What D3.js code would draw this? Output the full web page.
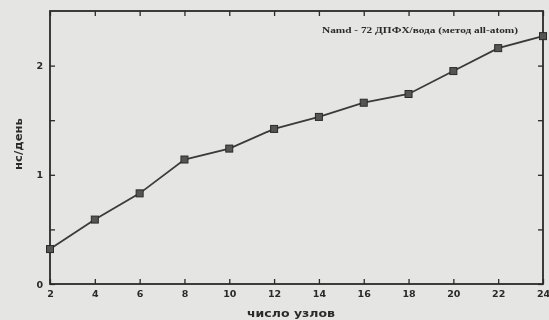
<!DOCTYPE html>
<html>
<head>
<meta charset="utf-8">
<script src="https://cdn.jsdelivr.net/npm/d3@7"></script>
<style>
  html, body { margin: 0; padding: 0; background: #e5e5e3; }
  svg { display: block; }
</style>
</head>
<body>
<svg id="chart" width="549" height="320"></svg>
<script>
// Производительность NAMD в зависимости от числа узлов
const nodes = [2, 4, 6, 8, 10, 12, 14, 16, 18, 20, 22, 24];
const nsPerDay = [0.32, 0.59, 0.83, 1.14, 1.24, 1.42, 1.53, 1.66, 1.74, 1.95, 2.16, 2.27];
const xTicks = [2, 4, 6, 8, 10, 12, 14, 16, 18, 20, 22, 24];
const yTicks = [0, 0.5, 1, 1.5, 2];
const yLabelTicks = [0, 1, 2];
const legendText = "Namd - 72 ДПФХ/вода (метод all-atom)";
const xTitle = "число узлов";
const yTitle = "нс/день";

const W = 549, H = 320;
const m = { left: 50, right: 6, top: 11, bottom: 36 };
const svg = d3.select("#chart");

const defs = svg.append("defs");
const f = defs.append("filter").attr("id", "soft");
f.append("feGaussianBlur").attr("stdDeviation", 0.45);

svg.append("rect").attr("width", W).attr("height", H).attr("fill", "#e5e5e3");

const x = d3.scaleLinear().domain([2, 24]).range([m.left, W - m.right]);
const y = d3.scaleLinear().domain([0, 2.5]).range([H - m.bottom, m.top]);

const g = svg.append("g").attr("filter", "url(#soft)");
const ink = "#2a2a2a";

// tick marks pointing inward on all four sides
const tl = 5;
g.append("g").attr("transform", `translate(0,${y(0)})`)
  .call(d3.axisBottom(x).tickValues(xTicks).tickSize(-tl).tickFormat(d => d))
  .call(s => {
    s.select(".domain").remove();
    s.selectAll("line").attr("stroke", ink).attr("stroke-width", 1.3);
    s.selectAll("text").attr("dy", "0.71em").attr("y", 6)
      .attr("fill", ink).style("font", "bold 9.5px 'DejaVu Sans', sans-serif");
  });
g.append("g").attr("transform", `translate(0,${y(2.5)})`)
  .call(d3.axisTop(x).tickValues(xTicks).tickSize(-tl).tickFormat(""))
  .call(s => {
    s.select(".domain").remove();
    s.selectAll("line").attr("stroke", ink).attr("stroke-width", 1.3);
  });
g.append("g").attr("transform", `translate(${x(2)},0)`)
  .call(d3.axisLeft(y).tickValues(yTicks).tickSize(-tl)
    .tickFormat(d => yLabelTicks.includes(d) ? d : ""))
  .call(s => {
    s.select(".domain").remove();
    s.selectAll("line").attr("stroke", ink).attr("stroke-width", 1.3);
    s.selectAll("text").attr("x", -7).attr("fill", ink)
      .style("font", "bold 9.5px 'DejaVu Sans', sans-serif");
  });
g.append("g").attr("transform", `translate(${x(24)},0)`)
  .call(d3.axisRight(y).tickValues(yTicks).tickSize(-tl).tickFormat(""))
  .call(s => {
    s.select(".domain").remove();
    s.selectAll("line").attr("stroke", ink).attr("stroke-width", 1.3);
  });

// frame
g.append("rect")
  .attr("x", x(2)).attr("y", y(2.5))
  .attr("width", x(24) - x(2)).attr("height", y(0) - y(2.5))
  .attr("fill", "none").attr("stroke", ink).attr("stroke-width", 1.8);

// data line and square markers
const pts = nodes.map((n, i) => [n, nsPerDay[i]]);
g.append("path").datum(pts)
  .attr("fill", "none").attr("stroke", "#3a3a3a").attr("stroke-width", 1.8)
  .attr("d", d3.line().x(d => x(d[0])).y(d => y(d[1])));
const ms = 7;
g.selectAll("rect.pt").data(pts).join("rect").attr("class", "pt")
  .attr("x", d => x(d[0]) - ms / 2).attr("y", d => y(d[1]) - ms / 2)
  .attr("width", ms).attr("height", ms)
  .attr("fill", "#555").attr("stroke", "#2a2a2a").attr("stroke-width", 1);

// legend caption
g.append("text").attr("x", 322).attr("y", 33)
  .attr("textLength", 196).attr("lengthAdjust", "spacingAndGlyphs")
  .attr("fill", ink).style("font", "bold 9px 'Liberation Serif', serif")
  .text(legendText);

// axis titles
g.append("text").attr("x", 247).attr("y", 317)
  .attr("textLength", 88).attr("lengthAdjust", "spacingAndGlyphs")
  .attr("fill", ink).style("font", "bold 10.5px 'DejaVu Sans', sans-serif")
  .text(xTitle);
g.append("text").attr("transform", "translate(22,170) rotate(-90)")
  .attr("textLength", 52).attr("lengthAdjust", "spacingAndGlyphs")
  .attr("fill", ink)
  .style("font", "bold 10.5px 'DejaVu Sans', sans-serif")
  .text(yTitle);
</script>
</body>
</html>
